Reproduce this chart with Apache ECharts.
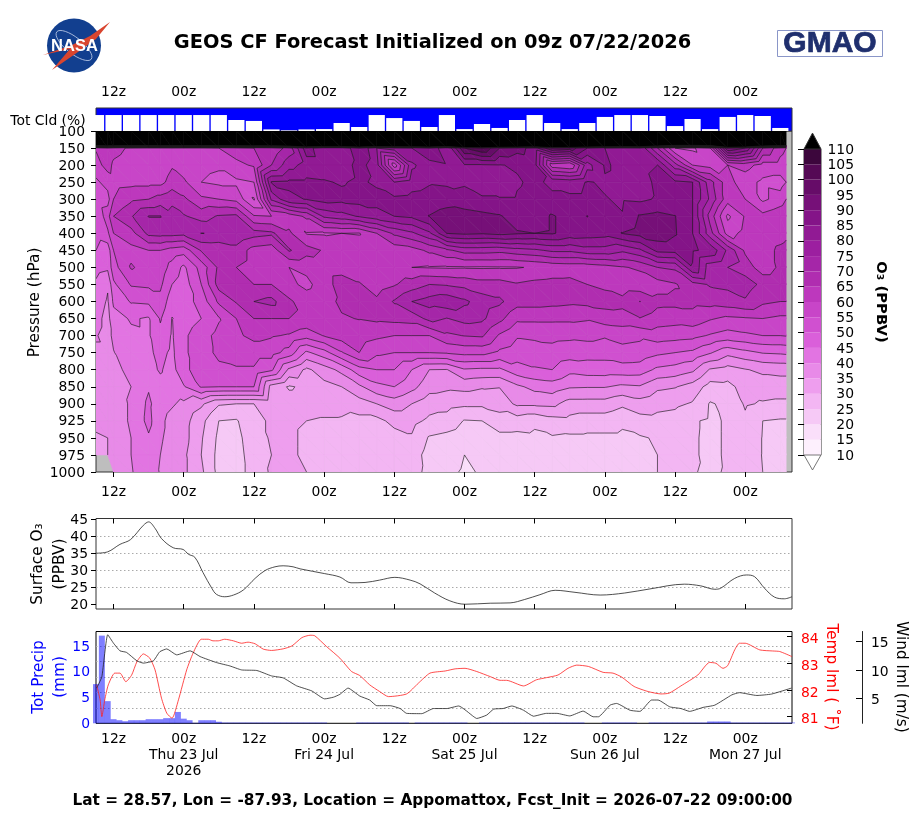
<!DOCTYPE html>
<html>
<head>
<meta charset="utf-8">
<title>GEOS CF Forecast</title>
<script src="https://cdn.jsdelivr.net/npm/echarts@6/dist/echarts.min.js"></script>
<style>html,body{margin:0;padding:0;background:#fff}#chart{width:918px;height:819px}</style>
</head>
<body>
<div id="chart"></div>
<script>
// Forecast hours since initialization for the ozone curtain columns
const columnHours = [0,2,3,6,9,11,13,15,18,21,24,27,30,33,36,39,42,45,48,51,54,57,60,63,66,69,72,75,78,81,84,87,90,93,96,99,102,105,108,111,114,117,118];
const pressureLevels = ["100","150","200","250","300","350","400","450","500","550","600","650","700","750","800","850","900","925","950","975","1000"];

// Ozone (PPBV) at each pressure level
const o3_100  = [400,400,400,400,400,400,400,400,400,400,400,400,400,400,400,400,400,400,400,400,400,400,400,400,400,400,400,400,400,400,400,400,400,400,400,400,400,400,400,400,400,400,400];
const o3_150  = [60.5,64,62,59,58,58,58.5,58,58,60,62,65,66,72,88,80,80,90,80,83,85,90,80,100,105,95,92,88,100,98,90,85,83,84,70,55,54,60,95,90,70,62,60];
const o3_200  = [58,62,59,57,57.5,56.5,59.5,57,56,55.5,59,60.5,70,78,82,82,82,87,82,57,79,83,84.5,84.5,84.5,84.8,85.5,87,62,60,78,85.5,84,84,85,72,60,58,60,62,58,58,57];
const o3_250  = [54,57,58,58.5,58.5,58.5,62,61,55,54,54,55,85.5,86,86,85.5,84.5,86,84,80,83,84.5,84,84.5,83,81,84.5,86,84,83,85.3,84.5,84,83,86,86,85,72,62,57,54,53,55];
const o3_300  = [52,53,60,64,65,67,69,66,61,60,58.5,49.5,76,84,85.2,87,86.5,87,87,86,86.5,87,88,86.5,85.5,85.5,85.5,86.5,86,86,86,85.2,84.5,84,85.5,87,85,74,62,60,54,57,60];
const o3_350  = [50,58,65,69.5,75.2,75.2,71.5,70.5,68,70.5,71,60.5,60,62,66,76,78,80.5,83,85,86,90.2,92,92.5,91.5,90.5,87.5,87.5,90.5,88,90.1,87,85.2,90.5,91.5,90.2,85,68,54,60.5,61.5,64,65];
const o3_400  = [52,54,60,63,71.5,72,72,71.5,75.1,74.5,74.5,72,71,66,59.7,59.5,60,59.7,65,71,74,79,90.1,91,90.5,91.5,90.5,90,90.5,88,87.5,87,90.2,92,93,90.5,85,72,58,61.5,62,63,64];
const o3_450  = [50,47,55,58.5,60,60,58,57,65.5,66,68,63,62,70.5,67,64.5,63,62.5,63,62,63,66,69,72,72,71.5,73,74,76,76,78,78,76,79,86.5,87,85.5,84,74,64,63,66,66.5];
const o3_500  = [47,46,53,60.5,58,58,53,49,57,66,65,63,62,60,61,62,62.5,62,61,61,60,59.7,59.5,59.6,59.5,59.6,59.7,60.5,61.5,62,62,63,64.5,66,70,71,84.8,72,70,68,62,66,66];
const o3_550  = [44,40.5,49,55.5,56,56,50,47.5,55,67,65,65,65,61,59,62,68,65.5,62.5,64.5,67.5,70,69.5,68.5,67,67,65.5,66.5,67,67,65,64,62,61.5,63,64.5,68,70.5,71,72,69,69,69];
const o3_600  = [42.5,39.5,46,50.5,51,53.5,47,47.5,52,61,65.5,70,71.5,66,62,63,66,67,66,70.5,75,77,78.5,76,72.5,71,67,67,66.5,66,66.5,67,66.5,70.1,66.5,66.5,66.5,67,68,69.5,66,65,65];
const o3_650  = [41.5,38.5,43,45.5,44.5,50.5,44.8,47,50,54.5,60,65,65,65,64,63,64.5,65.2,66,66.5,67,71.5,69.8,71.8,71,66.5,61,61,61,61,60.5,62.5,63,64.8,62.5,62,63,60.5,59,59.5,60,59,59];
const o3_700  = [40.3,38.5,41,44,44.5,48.5,44.5,49,53,56.5,59,61.5,60.5,59.5,57,60.3,62.5,62.4,61,60,60,60,64,65.2,65.7,59.3,55.5,56,56.2,56,56.5,55.5,56.5,56,57.5,57,56.5,54.5,53,54,55,55,55.3];
const o3_750  = [39.5,39.5,39.8,43,44,46.5,44,49,53,56,57,57,57,53,44,48,54.5,60,56,55,55,55,55.5,56.5,56.5,54,52.5,52.5,53.5,52.5,52,52,53.5,53,51,50,49,45.5,41.5,43.5,45.3,45.7,46];
const o3_800  = [38.5,38.5,39,41,43.5,45.5,43,49,52,54,54.5,54.5,51,39,34,37.5,41.5,48,50,50,45,40,39.8,44.5,44,44,48,49.5,50,46.5,47.4,47.5,47.7,47.5,44,43,41,34.5,33,34.7,36,36.5,36.5];
const o3_850  = [38,38.5,38.5,40,44.5,43.5,42.5,44.5,50.5,50,50,50,33,29.5,31,33.5,35,39,43.5,45,41.6,37,36,36.5,35.5,35.2,39,41.5,42.5,40.5,40.3,40.3,39,39.5,36,35.3,33,28,28.5,32,32.5,32.5,32.5];
const o3_900  = [37.5,37.5,38,40.5,46,42,40.5,39,36,30.5,30,30,31,32,32,32,31.5,32.8,35,37.5,35,32,31.8,31,31,32,36,36,36.3,33,33,33,31,33,31.5,31,29.5,24.6,26,30.6,29.5,29,29];
const o3_925  = [36,37,38,40.5,46.5,41,38.5,37,31.5,25,24.5,29,30.5,31,30,29.5,29.5,28.5,28.5,31.5,31.5,29,28,24.7,25,28,27.5,26,28,28.5,27.5,27.5,26,28,28.5,28,25.5,24.3,25.4,29,25,24.5,24.5];
const o3_950  = [34.5,35,36,40,44.4,40.5,38.5,37,30.5,24,23.5,28,30.5,31,29,28,27.5,27,27.5,28,29.5,24.5,23.5,22,22.5,23.5,23.5,24,24.5,24,24,24,24,24.5,25.5,26.5,25.4,24.3,25.4,28,24.8,23,23];
const o3_975  = [34,35,36,40,43,40,38,36,30,23.5,23,27.5,30,31,29,28,27.5,26.8,27.5,27.8,27.5,23,22,20,21,22,21.7,23.5,24,23.5,23,23,23.5,23.5,25,26,25.4,24.3,25.4,27.5,24.8,22.5,22.5];
const o3_1000 = [null,null,35.5,39.5,44,39.5,37.5,36,31,23.5,23,27,30.7,31,30,29,28,26.5,27.5,27.8,27,23.5,21,19.5,20.3,20.3,20.5,23,24,23.5,23,22.5,23.5,24,25,25.8,25.2,24.5,25.3,27.5,25,22,22];
const o3Rows = [o3_100,o3_150,o3_200,o3_250,o3_300,o3_350,o3_400,o3_450,o3_500,o3_550,o3_600,o3_650,o3_700,o3_750,o3_800,o3_850,o3_900,o3_925,o3_950,o3_975,o3_1000];

// Contour levels and their fill colours
const contourLevels = [10,15,20,25,30,35,40,45,50,55,60,65,70,75,80,85,90,95,100,105,110];
const bandColors = ["#fdf0fd","#fadffa","#f6c9f6","#f3b6f3","#ee9eee","#e88ae8","#e274e2","#da5fda","#d050d0","#c845c8","#bd38bd","#b02db0","#a526a8","#9c1fa0","#911a94","#841488","#761078","#660c68","#550955","#3c063c"];

// Total cloud (%) every 3 hours
const cloudHours = [0,3,6,9,12,15,18,21,24,27,30,33,36,39,42,45,48,51,54,57,60,63,66,69,72,75,78,81,84,87,90,93,96,99,102,105,108,111,114,117];
const cloudPct = [100,100,100,100,100,100,100,100,69,63,10,4,10,12,50,25,100,81,63,25,100,12,44,19,69,100,50,12,50,88,100,100,94,31,75,12,88,100,94,19];

// Surface ozone (PPBV)
const surfaceHours = [0,2,4.1,5.9,8.1,9,10.1,11.2,13.2,14.9,15.8,16.9,18.3,19.8,20.6,22,23.5,25.2,27.2,28.9,30.6,32,33.7,34.9,39.1,41.7,43.6,46,48.5,51.1,53.7,55.4,57.9,60.5,63.1,67.4,70.8,73.3,75.9,78.5,81.9,86.2,90.4,94.7,100.6,103.4,105.8,106.8,109.2,111.2,112.6,114.3,116,117.7,119];
const surfaceO3 = [35,35.4,37.6,39,43.2,44.2,42.3,39.3,36.6,36.1,34.7,33.8,29.3,24.7,22.9,22.2,22.7,24.2,27.6,29.9,31,31.3,31,30.4,29,28,26.3,26.4,27.1,27.9,27.1,26,23.3,21,20,20.3,20.4,21.4,22.8,24.1,23.5,22.7,23.3,24.5,25.9,25.4,24.4,24.7,27.6,28.6,28.1,24.7,22.1,21.6,22.2];

// Hourly total precipitation (mm)
const precipMm = [7.6,17,4.3,.8,.6,.4,.6,.6,.6,.8,.8,.8,1,1,2.2,.9,.6,.1,.6,.6,.6,.3,
  .15,.15,.15,.15,.15,.15,.15,.15,.15,.15,.15,.15,.15,.15,.15,.15,.15,.15,
  0,0,0,0,0,
  .15,.15,.15,.15,.15,.15,.15,.15,.15,
  0,
  .15,.15,.15,.15,.15,.15,.15,.15,.15,
  0,0,
  .15,.15,.15,.15,.15,.15,.15,.15,.15,.15,.15,.15,.15,.15,.15,.15,.15,.15,
  0,0,0,
  .15,.15,.15,.15,.15,.15,
  0,0,
  .15,.15,.15,.15,.15,.15,.15,.15,.15,.15,
  .35,.35,.35,.35,
  .15,.15,.15,.15,.15,.15,.15,.15,.15,.15,.15];

// Lowest-model-level temperature (deg F)
const tempHours = [0.1,0.7,1,1.5,2.1,3.2,4.1,5.1,6.1,7,8.1,9.2,10.1,11.2,12.1,13,14.1,15.5,16.6,18,19.2,20,20.9,22,23.5,24.9,26,27.2,28.6,30,32,33.5,35.2,36.6,37.4,39.4,41.7,43.7,45.1,46.8,48.5,50,53.1,55.1,57.1,59.7,61.4,63.1,65.1,67.4,69.1,70.2,73.1,75.3,77,79,80.7,82.2,84.2,86.7,88.4,89.9,92,94.4,96.6,98,100,102.9,104.9,106,107.2,108,109.2,110,111,113.5,115.7,116.9,119];
const tempF = [82.19,81.63,81,81.63,82.19,82.63,82.63,82.31,82.56,83.06,83.35,83.19,82.75,81.69,81.13,80.94,81.63,82.75,83.38,83.9,83.9,83.84,83.84,83.9,83.84,83.75,83.79,83.73,83.53,83.48,83.54,83.65,83.96,84.05,84.03,83.63,83.19,82.69,82.54,82.19,81.94,81.75,81.85,82.25,82.63,82.71,82.79,82.81,82.69,82.5,82.36,82.36,82.15,82.38,82.46,82.56,82.81,82.93,82.88,82.66,82.63,82.48,82.13,81.94,81.85,81.88,82.15,82.56,83.03,83,82.81,82.91,83.5,83.75,83.75,83.5,83.46,83.44,83.25];

// Lowest-model-level wind speed (m/s)
const windHours = [0.1,1,2,3,4.1,5.2,7,8.1,9.8,10.9,12.1,13.8,16.1,17.8,20.6,22.9,24.9,27.5,30,32,34.3,36.9,39.1,40.6,41.7,43.1,45.1,46.8,48,50.3,52,53.1,55.7,57.7,60,62,64.6,65.1,66.8,68,69.6,71.1,73.1,74.8,77,78.8,81,83.3,85,85.9,87.9,89,91.3,93,95,96.1,98.1,100,101.5,103.8,105.8,108.7,110,113,115.5,118.9];
const windMs = [6.8,8.8,16.2,14.7,13.36,13.1,11.6,11.2,11.6,13.2,13.7,12.65,13.36,12.35,11.3,10.7,10,9.9,8.95,8.6,7.2,6.3,4.9,5.2,5.7,6.8,5.4,4.7,3.7,3.7,3.2,2.35,2.3,3.2,3.2,3.65,1.75,1.45,2.05,3.1,3.2,3.65,2.9,1.85,2.35,2.35,1.9,2.75,1.75,1.75,3.8,4.1,2.9,2.7,4.7,4.7,3.5,3.2,2.7,3.4,3.8,5.6,6,5.5,5.75,6.8];

// Time axis ticks and their labels
const tickHours = [3,15,27,39,51,63,75,87,99,111];
const tickNames = ["12z","00z","12z","00z","12z","00z","12z","00z","12z","00z"];
const dateNames = ["","Thu 23 Jul\n2026","","Fri 24 Jul","","Sat 25 Jul","","Sun 26 Jul","","Mon 27 Jul"];

const surfaceTicks = [20,25,30,35,40,45];
const precipTicks = [0,5,10,15];
const tempTicks = [81,82,83,84];
const windTicks = [5,10,15];

const FONT = 'DejaVu Sans';
const INK = '#000';
const FRAME = '#333';
const hourMax = 119;

// Sutherland-Hodgman clip of a polygon against one value threshold
function clipByValue(poly, lvl, keepAbove) {
  const out = [];
  for (let i = 0; i < poly.length; i++) {
    const a = poly[i], b = poly[(i + 1) % poly.length];
    const ina = keepAbove ? a[2] >= lvl : a[2] <= lvl;
    const inb = keepAbove ? b[2] >= lvl : b[2] <= lvl;
    if (ina) out.push(a);
    if (ina !== inb) {
      const t = (lvl - a[2]) / (b[2] - a[2]);
      out.push([a[0] + t * (b[0] - a[0]), a[1] + t * (b[1] - a[1]), lvl]);
    }
  }
  return out;
}

function cellTriangles(k, r, api) {
  const vertex = (c, row) => {
    const v = o3Rows[row][c];
    if (v === null || v === undefined) return null;
    const p = api.coord([columnHours[c], row]);
    return [p[0], p[1], v];
  };
  const tl = vertex(k, r), tr = vertex(k + 1, r), bl = vertex(k, r + 1), br = vertex(k + 1, r + 1);
  const tris = [];
  if (tl && tr && br) tris.push([tl, tr, br]);
  if (tl && bl && br) tris.push([tl, bl, br]);
  return tris;
}

// Filled bands of one grid cell
function renderFill(params, api) {
  const k = api.value(0), r = api.value(1);
  const children = [];
  const edges = [-Infinity].concat(contourLevels, [Infinity]);
  const fills = ['#ffffff'].concat(bandColors, ['#000000']);
  cellTriangles(k, r, api).forEach(tri => {
    const vals = tri.map(p => p[2]);
    const lo = Math.min.apply(null, vals), hi = Math.max.apply(null, vals);
    for (let b = 0; b < fills.length; b++) {
      if (edges[b + 1] < lo || edges[b] > hi) continue;
      let poly = tri;
      if (edges[b] > -Infinity) poly = clipByValue(poly, edges[b], true);
      if (poly.length && edges[b + 1] < Infinity) poly = clipByValue(poly, edges[b + 1], false);
      if (poly.length < 3) continue;
      children.push({
        type: 'polygon', silent: true,
        shape: { points: poly.map(p => [p[0], p[1]]) },
        style: { fill: fills[b], stroke: fills[b], lineWidth: 0.6 }
      });
    }
  });
  return { type: 'group', children };
}

// Contour segments of one grid cell
function renderLines(params, api) {
  const k = api.value(0), r = api.value(1);
  const children = [];
  cellTriangles(k, r, api).forEach(tri => {
    contourLevels.forEach(lvl => {
      const pts = [];
      for (let i = 0; i < 3; i++) {
        const a = tri[i], b = tri[(i + 1) % 3];
        if ((a[2] < lvl) !== (b[2] < lvl)) {
          const t = (lvl - a[2]) / (b[2] - a[2]);
          pts.push([a[0] + t * (b[0] - a[0]), a[1] + t * (b[1] - a[1])]);
        }
      }
      if (pts.length === 2) {
        children.push({
          type: 'polyline', silent: true,
          shape: { points: pts },
          style: { fill: null, stroke: '#1a1a1a', lineWidth: 0.75, opacity: 0.85 }
        });
      }
    });
  });
  return { type: 'group', children };
}

// Colour bar swatches and its two extension triangles
function renderColorbar(params, api) {
  const i = api.value(0);
  if (i === bandColors.length) {
    const a = api.coord([0, 110]), b = api.coord([1, 110]), c = api.coord([0.5, 115.2]);
    return { type: 'polygon', shape: { points: [a, b, c] }, style: { fill: '#000', stroke: FRAME, lineWidth: 1 } };
  }
  if (i === bandColors.length + 1) {
    const a = api.coord([0, 10]), b = api.coord([1, 10]), c = api.coord([0.5, 5.1]);
    return { type: 'polygon', shape: { points: [a, b, c] }, style: { fill: '#fff', stroke: '#555', lineWidth: 0.8 } };
  }
  const p0 = api.coord([0, contourLevels[i + 1]]), p1 = api.coord([1, contourLevels[i]]);
  return { type: 'rect', shape: { x: p0[0], y: p0[1], width: p1[0] - p0[0], height: p1[1] - p0[1] }, style: { fill: bandColors[i] } };
}

const cells = [];
for (let k = 0; k < columnHours.length - 1; k++) {
  for (let r = 0; r < pressureLevels.length - 1; r++) cells.push([k, r]);
}
const barCells = [];
for (let i = 0; i < bandColors.length + 2; i++) barCells.push([i, 50]);

const zip = (xs, ys) => xs.map((x, i) => [x, ys[i]]);
const timeAxis = (extra) => Object.assign({
  type: 'value', min: 0, max: hourMax, splitLine: { show: false },
  axisLine: { show: false }
}, extra);
const tickLabel = (v) => tickNames[tickHours.indexOf(v)];
const dotted = { show: true, showMinLine: false, showMaxLine: false, lineStyle: { color: '#aaa', type: [1.5, 2.5], width: 1 } };
const baseLabel = { fontFamily: FONT, fontSize: 13.9, color: INK };
const captionFont = '15.3px ' + FONT;
// Vertical nudge for y-axis tick labels: the text centres half a line height below the tick
const nudged = (px) => ({ verticalAlign: 'top', lineHeight: px * 2 });

const option = {
  animation: false,
  backgroundColor: '#fff',
  grid: [
    { left: 96, top: 131, width: 696, height: 341, show: true, backgroundColor: '#bebebe', borderColor: FRAME, borderWidth: 1 },
    { left: 96, top: 108, width: 696, height: 23, show: true, backgroundColor: '#0000ff', borderColor: FRAME, borderWidth: 1 },
    { left: 96, top: 518.5, width: 696, height: 90.5, show: true, borderColor: FRAME, borderWidth: 1 },
    { left: 96, top: 631.5, width: 696, height: 91.8, show: true, borderColor: '#000', borderWidth: 1 },
    { left: 804, top: 149, width: 17, height: 306, show: true, borderColor: FRAME, borderWidth: 1 }
  ],
  xAxis: [
    timeAxis({ gridIndex: 0, axisTick: { show: true, customValues: tickHours, length: 5, lineStyle: { color: INK } },
      axisLabel: Object.assign({}, baseLabel, { customValues: tickHours, formatter: tickLabel, margin: 13 }) }),
    timeAxis({ gridIndex: 1, position: 'top', axisTick: { show: false },
      axisLabel: Object.assign({}, baseLabel, { customValues: tickHours, formatter: tickLabel, margin: 9 }) }),
    timeAxis({ gridIndex: 2, axisTick: { show: true, inside: true, customValues: tickHours, length: 5, lineStyle: { color: INK } }, axisLabel: { show: false } }),
    timeAxis({ gridIndex: 2, position: 'top', axisTick: { show: true, inside: true, customValues: tickHours, length: 5, lineStyle: { color: INK } }, axisLabel: { show: false } }),
    timeAxis({ gridIndex: 3, axisTick: { show: false },
      axisLabel: Object.assign({}, baseLabel, { customValues: tickHours, margin: 8, lineHeight: 16, align: 'center',
        formatter: (v) => { const i = tickHours.indexOf(v); return tickNames[i] + (dateNames[i] ? '\n' + dateNames[i] : ''); } }) }),
    { type: 'value', gridIndex: 4, min: 0, max: 1, show: false }
  ],
  yAxis: [
    { type: 'category', gridIndex: 0, data: pressureLevels, inverse: true, boundaryGap: false,
      axisLine: { show: false }, splitLine: { show: false },
      axisTick: { show: true, length: 5, interval: 0, lineStyle: { color: INK } },
      axisLabel: Object.assign({}, baseLabel, nudged(1), { interval: 0, margin: 11 }) },
    { type: 'value', gridIndex: 1, min: 0, max: 144, show: false },
    { type: 'value', gridIndex: 2, min: 18.6, max: 45.2, axisLine: { show: false }, splitLine: dotted,
      axisTick: { show: true, length: 5, customValues: surfaceTicks, lineStyle: { color: INK } },
      axisLabel: Object.assign({}, baseLabel, nudged(1), { customValues: surfaceTicks, margin: 8 }) },
    { type: 'value', gridIndex: 3, min: 0, max: 17.8, axisLine: { show: false }, splitLine: dotted,
      axisTick: { show: false },
      axisLabel: Object.assign({}, baseLabel, nudged(1), { color: '#0000ff', customValues: precipTicks, margin: 6 }) },
    { type: 'value', gridIndex: 3, position: 'right', min: 80.75, max: 84.19, axisLine: { show: false }, splitLine: { show: false },
      axisTick: { show: true, inside: true, length: 5, customValues: tempTicks, lineStyle: { color: INK } },
      axisLabel: Object.assign({}, baseLabel, nudged(3), { color: '#ff0000', customValues: tempTicks, margin: 9 }) },
    { type: 'value', gridIndex: 3, position: 'right', offset: 70, min: 0.6, max: 16.77, splitLine: { show: false },
      axisLine: { show: true, lineStyle: { color: '#222', width: 1 } },
      axisTick: { show: true, inside: true, length: 6, customValues: windTicks, lineStyle: { color: INK } },
      axisLabel: Object.assign({}, baseLabel, nudged(2), { customValues: windTicks, margin: 9 }) },
    { type: 'value', gridIndex: 4, position: 'right', min: 10, max: 110, interval: 5, splitLine: { show: false },
      axisLine: { show: false },
      axisTick: { show: true, inside: true, length: 6, lineStyle: { color: '#000' } },
      axisLabel: Object.assign({}, baseLabel, nudged(1), { align: 'right', margin: 33 }) }
  ],
  title: [
    { text: 'GEOS CF Forecast Initialized on 09z 07/22/2026', left: 427.5, top: 38, textAlign: 'center', textVerticalAlign: 'middle',
      textStyle: { fontFamily: FONT, fontWeight: 'bold', fontSize: 19.4, color: INK } },
    { text: 'Lat = 28.57, Lon = -87.93, Location = Appomattox, Fcst_Init = 2026-07-22 09:00:00', left: 427.5, top: 796, textAlign: 'center', textVerticalAlign: 'middle',
      textStyle: { fontFamily: FONT, fontWeight: 'bold', fontSize: 15.3, color: INK } }
  ],
  series: [
    { type: 'custom', name: 'O3 fill', xAxisIndex: 0, yAxisIndex: 0, coordinateSystem: 'cartesian2d', data: cells,
      renderItem: renderFill, clip: true, silent: true, progressive: 0, z: 1 },
    { type: 'custom', name: 'O3 contours', xAxisIndex: 0, yAxisIndex: 0, coordinateSystem: 'cartesian2d', data: cells,
      renderItem: renderLines, clip: true, silent: true, progressive: 0, z: 2 },
    { type: 'bar', name: 'Tot Cld', xAxisIndex: 1, yAxisIndex: 1, data: zip(cloudHours, cloudPct), barWidth: 16.2,
      itemStyle: { color: '#fff' }, silent: true },
    { type: 'line', name: 'Surface O3', xAxisIndex: 2, yAxisIndex: 2, data: zip(surfaceHours, surfaceO3), smooth: 0.35,
      showSymbol: false, lineStyle: { color: '#222', width: 0.8 }, silent: true },
    { type: 'bar', name: 'Tot Precip', xAxisIndex: 4, yAxisIndex: 3, data: precipMm.map((v, h) => [h, v]), barWidth: 6,
      itemStyle: { color: 'rgba(0,0,255,0.5)' }, silent: true },
    { type: 'line', name: 'Temp', xAxisIndex: 4, yAxisIndex: 4, data: zip(tempHours, tempF), smooth: 0.2,
      showSymbol: false, lineStyle: { color: '#ff2020', width: 0.8 }, silent: true },
    { type: 'line', name: 'Wind', xAxisIndex: 4, yAxisIndex: 5, data: zip(windHours, windMs), smooth: 0.15,
      showSymbol: false, lineStyle: { color: '#222', width: 0.8 }, silent: true },
    { type: 'custom', name: 'Colour bar', xAxisIndex: 5, yAxisIndex: 6, coordinateSystem: 'cartesian2d', data: barCells,
      encode: { x: 0, y: 1 }, renderItem: renderColorbar, clip: false, silent: true, z: 1 }
  ],
  graphic: [
    // axis captions
    { type: 'text', x: 48, y: 121, silent: true, style: { text: 'Tot Cld (%)', font: '13.9px ' + FONT, fill: INK, textAlign: 'center', textVerticalAlign: 'middle' } },
    { type: 'text', x: 35.5, y: 302.5, rotation: Math.PI / 2, silent: true, style: { text: 'Pressure (hPa)', font: captionFont, fill: INK, textAlign: 'center', textVerticalAlign: 'middle' } },
    { type: 'text', x: 49, y: 564, rotation: Math.PI / 2, silent: true, style: { text: 'Surface O\u2083\n(PPBV)', font: captionFont, fill: INK, textAlign: 'center', textVerticalAlign: 'middle', lineHeight: 22 } },
    { type: 'text', x: 50, y: 677, rotation: Math.PI / 2, silent: true, style: { text: 'Tot Precip\n(mm)', font: captionFont, fill: '#0000ff', textAlign: 'center', textVerticalAlign: 'middle', lineHeight: 21 } },
    { type: 'text', x: 831, y: 677, rotation: -Math.PI / 2, silent: true, style: { text: 'Temp lml ( \u02daF)', font: captionFont, fill: '#ff0000', textAlign: 'center', textVerticalAlign: 'middle' } },
    { type: 'text', x: 901, y: 677, rotation: -Math.PI / 2, silent: true, style: { text: 'Wind lml (m/s)', font: captionFont, fill: INK, textAlign: 'center', textVerticalAlign: 'middle' } },
    { type: 'text', x: 881, y: 302, rotation: -Math.PI / 2, silent: true, style: { text: 'O\u2083 (PPBV)', font: 'bold 14.8px ' + FONT, fill: INK, textAlign: 'center', textVerticalAlign: 'middle' } },
    // NASA insignia
    { type: 'circle', silent: true, shape: { cx: 74, cy: 45.5, r: 27 }, style: { fill: '#123f8f' } },
    { type: 'ellipse', silent: true, x: 74, y: 45.5, rotation: 0.9, originX: 0, originY: 0, shape: { cx: 0, cy: 0, rx: 8, ry: 22 }, style: { fill: null, stroke: '#b9c8e6', lineWidth: 0.8 } },
    { type: 'polygon', silent: true, shape: { points: [[110, 22], [90, 36], [72, 45], [43, 55], [70, 49], [52, 70], [78, 52], [96, 39]] }, style: { fill: '#d9452f' } },
    { type: 'text', x: 74.5, y: 46, silent: true, style: { text: 'NASA', font: 'bold 16.5px "Liberation Sans"', fill: '#fff', textAlign: 'center', textVerticalAlign: 'middle' } },
    // GMAO badge
    { type: 'rect', silent: true, shape: { x: 777.5, y: 30.5, width: 105, height: 26 }, style: { fill: '#fff', stroke: '#8a96c8', lineWidth: 1 } },
    { type: 'text', x: 830, y: 43.5, silent: true, style: { text: 'GMAO', font: 'bold 30px "Liberation Sans"', fill: '#1f2f6e', stroke: '#1f2f6e', lineWidth: 0.7, textAlign: 'center', textVerticalAlign: 'middle' } }
  ]
};

const chart = echarts.init(document.getElementById('chart'), null, { renderer: 'canvas', width: 918, height: 819 });
chart.setOption(option);
</script>
</body>
</html>
